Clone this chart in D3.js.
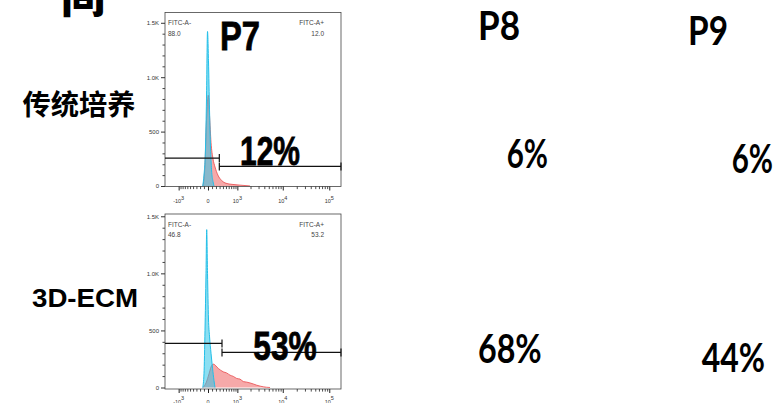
<!DOCTYPE html>
<html><head><meta charset="utf-8">
<script src="https://cdn.jsdelivr.net/npm/d3@7"></script>
<style>body{margin:0;background:#fff}svg{display:block}</style>
</head><body><svg id="c" width="774" height="403"></svg>
<script>
// ---------------- data ----------------
const headerChar = "间";
const rowLabels = ["传统培养", "3D-ECM"];
const passages = ["P7", "P8", "P9"];
const positivePct = [[12, 6, 6], [53, 68, 44]];
const gateNegPct = [88.0, 46.8];
const gatePosPct = [12.0, 53.2];
const gateNames = ["FITC-A-", "FITC-A+"];
const gateSplit = [292, 371];      // FITC value where the gates split
const gateNegCount = [257, 386];   // height (count) of the negative gate bar
const gatePosCount = [180, 307];   // height (count) of the positive gate bar

// histograms: FITC value / count
const topBlueX = [-131, -99, -62, -37, -12, 12, 37, 62, 87, 124, 149];
const topBlueY = [0, 100, 350, 800, 1420, 1150, 700, 350, 150, 40, 0];
const topRedX = [-124, -74, -37, 7, 37, 74, 124, 175, 252, 362, 502, 740, 1155, 1762, 1947];
const topRedY = [0, 200, 600, 835, 650, 400, 250, 175, 100, 50, 25, 15, 8, 2, 0];
const botBlueX = [-131, -99, -74, -49, -32, -12, 12, 37, 74, 112, 149, 175];
const botBlueY = [0, 120, 500, 1000, 1383, 1000, 600, 450, 300, 170, 60, 0];
const botRedX = [-124, -49, 25, 74, 131, 263, 412, 520, 654, 800, 966, 1150, 1377, 1650, 1947, 2300, 2736, 3250, 3812, 4500, 5320];
const botRedY = [0, 40, 120, 180, 205, 167, 137, 128, 108, 97, 79, 74, 52, 47, 40, 31, 20, 12, 6, 2, 0];

// axes
const yTickValues = [0, 500, 1000, 1500];
const yTickLabels = ["0", "500", "1.0K", "1.5K"];
const yMinorTicks = [100, 200, 300, 400, 600, 700, 800, 900, 1100, 1200, 1300, 1400];
const xTickValues = [-1000, 0, 1000, 10000, 100000];
const xTickLabels = [["-10", "3"], ["0", ""], ["10", "3"], ["10", "4"], ["10", "5"]];
const xMinorTicks = [-900, -800, -700, -600, -500, -400, -300, -200, -100,
  100, 200, 300, 400, 500, 600, 700, 800, 900,
  2000, 3000, 4000, 5000, 6000, 7000, 8000, 9000,
  20000, 30000, 40000, 50000, 60000, 70000, 80000, 90000];
const xDomain = [-2050, 178700];

// ---------------- drawing ----------------
const svg = d3.select("#c");
const SANS = "'Liberation Sans', Arial, sans-serif";
const CJK = "'Noto Sans CJK SC', sans-serif";
const GEO = "Lato, 'Open Sans', sans-serif";
const W = 495;
const tx = v => Math.asinh(v / W);

const panels = [
  { top: 12.5, bottom: 186.5, yMax: 1590, yRange: [186, 13], labelDy: 16.5,
    blue: [topBlueX, topBlueY], red: [topRedX, topRedY] },
  { top: 214, bottom: 389, yMax: 1520, yRange: [387.5, 214], labelDy: 14.5,
    blue: [botBlueX, botBlueY], red: [botRedX, botRedY] }
];
const left = 165, right = 341;

panels.forEach((p, i) => {
  const x = d3.scaleLinear().domain(xDomain.map(tx)).range([left, right]);
  const y = d3.scaleLinear().domain([0, p.yMax]).range(p.yRange);
  const g = svg.append("g");
  const clipId = "clip" + i;
  svg.append("clipPath").attr("id", clipId).append("rect")
    .attr("x", left).attr("y", p.top).attr("width", right - left).attr("height", p.bottom - p.top);

  const area = d3.area().curve(d3.curveMonotoneX)
    .x(d => x(tx(d[0]))).y0(y(0)).y1(d => y(d[1]));
  const line = d3.line().curve(d3.curveMonotoneX)
    .x(d => x(tx(d[0]))).y(d => y(d[1]));
  const redPts = p.red[0].map((v, k) => [v, p.red[1][k]]);
  const bluePts = p.blue[0].map((v, k) => [v, p.blue[1][k]]);
  const hg = g.append("g").attr("clip-path", `url(#${clipId})`);
  hg.append("path").attr("d", area(redPts)).attr("fill", "#f06a6a").attr("fill-opacity", 0.58);
  hg.append("path").attr("d", line(redPts)).attr("fill", "none").attr("stroke", "#e8474a").attr("stroke-width", 0.8);
  hg.append("path").attr("d", area(bluePts)).attr("fill", "#2ec4e8").attr("fill-opacity", 0.55);
  hg.append("path").attr("d", line(bluePts)).attr("fill", "none").attr("stroke", "#22bfe8").attr("stroke-width", 1);

  // frame
  g.append("rect").attr("x", left).attr("y", p.top).attr("width", right - left).attr("height", p.bottom - p.top)
    .attr("fill", "none").attr("stroke", "#444").attr("stroke-width", 0.8);

  // y axis
  const ya = g.append("g").attr("transform", `translate(${left},0)`)
    .call(d3.axisLeft(y).tickValues(yTickValues).tickSize(4).tickPadding(2)
      .tickFormat((d, k) => yTickLabels[k]));
  ya.select(".domain").remove();
  ya.selectAll("line").attr("stroke", "#333");
  ya.selectAll("text").attr("font-family", SANS).attr("font-size", 6).attr("fill", "#333");
  const ym = g.append("g").attr("transform", `translate(${left},0)`)
    .call(d3.axisLeft(y).tickValues(yMinorTicks).tickSize(2.5).tickFormat(""));
  ym.select(".domain").remove();
  ym.selectAll("line").attr("stroke", "#444");

  // x axis
  const xa = g.append("g").attr("transform", `translate(0,${p.bottom})`)
    .call(d3.axisBottom(x).tickValues(xTickValues.map(tx)).tickSize(4).tickFormat(""));
  xa.select(".domain").remove();
  xa.selectAll("line").attr("stroke", "#222").attr("stroke-width", 1);
  const xm = g.append("g").attr("transform", `translate(0,${p.bottom})`)
    .call(d3.axisBottom(x).tickValues(xMinorTicks.map(tx)).tickSize(2.6).tickFormat(""));
  xm.select(".domain").remove();
  xm.selectAll("line").attr("stroke", "#222").attr("stroke-width", 0.8);
  xTickValues.forEach((v, k) => {
    const t = g.append("text").attr("x", x(tx(v))).attr("y", p.bottom + p.labelDy)
      .attr("text-anchor", "middle").attr("font-family", SANS).attr("font-size", 5.5).attr("fill", "#333");
    t.append("tspan").text(xTickLabels[k][0]);
    if (xTickLabels[k][1]) t.append("tspan").attr("dy", -3.5).attr("font-size", 5.5).text(xTickLabels[k][1]);
  });

  // gates
  const gy1 = y(gateNegCount[i]), gy2 = y(gatePosCount[i]);
  const gs = x(tx(gateSplit[i]));
  const gl = g.append("g").attr("stroke", "#111").attr("stroke-width", 1.2);
  gl.append("line").attr("x1", left).attr("x2", gs).attr("y1", gy1).attr("y2", gy1);
  gl.append("line").attr("x1", gs).attr("x2", gs).attr("y1", gy1 - 4).attr("y2", gy1 + 4);
  gl.append("line").attr("x1", gs).attr("x2", right).attr("y1", gy2).attr("y2", gy2);
  gl.append("line").attr("x1", gs).attr("x2", gs).attr("y1", gy2 - 4).attr("y2", gy2 + 4);
  gl.append("line").attr("x1", right).attr("x2", right).attr("y1", gy2 - 4).attr("y2", gy2 + 4);

  // gate labels
  const lt = g.append("g").attr("font-family", SANS).attr("font-size", 6.5).attr("fill", "#444");
  lt.append("text").attr("x", left + 3).attr("y", p.top + 12.5).text(gateNames[0]);
  lt.append("text").attr("x", left + 3).attr("y", p.top + 23).text(gateNegPct[i].toFixed(1));
  lt.append("text").attr("x", right - 17).attr("y", p.top + 12.5).attr("text-anchor", "end").text(gateNames[1]);
  lt.append("text").attr("x", right - 17).attr("y", p.top + 23).attr("text-anchor", "end").text(gatePosPct[i].toFixed(1));
});

// header character (cropped at top)
svg.append("text").attr("x", 61).attr("y", 13).attr("font-family", CJK).attr("font-weight", 900)
  .attr("font-size", 44).text(headerChar);

// row labels
svg.append("text").attr("x", 22.5).attr("y", 114.5).attr("font-family", CJK).attr("font-weight", 700)
  .attr("font-size", 28).attr("textLength", 113).attr("lengthAdjust", "spacingAndGlyphs").text(rowLabels[0]);
svg.append("text").attr("x", 32).attr("y", 306.7).attr("font-family", SANS).attr("font-weight", 700)
  .attr("font-size", 25).attr("textLength", 106).attr("lengthAdjust", "spacingAndGlyphs").text(rowLabels[1]);

// passage titles
const titlePos = [
  { x: 220, y: 50, w: 40, f: SANS, s: 0.8 },
  { x: 478, y: 40, w: 42, f: GEO, s: 0 },
  { x: 688, y: 45, w: 40, f: GEO, s: 0 }
];
passages.forEach((t, k) => {
  const q = titlePos[k];
  svg.append("text").attr("x", q.x).attr("y", q.y).attr("font-family", q.f).attr("font-weight", 700)
    .attr("font-size", 41).attr("textLength", q.w).attr("lengthAdjust", "spacingAndGlyphs")
    .attr("stroke", "#000").attr("stroke-width", q.s).text(t);
});

// percentages
const pctPos = [
  [{ x: 240, y: 165, w: 60, f: SANS, s: 0.8 }, { x: 506.7, y: 168, w: 41.3, f: GEO, s: 0 }, { x: 731.7, y: 173, w: 41.3, f: GEO, s: 0 }],
  [{ x: 253.3, y: 360, w: 63.4, f: SANS, s: 0.8 }, { x: 478, y: 363.3, w: 63.7, f: GEO, s: 0 }, { x: 701.7, y: 371.7, w: 63.3, f: GEO, s: 0 }]
];
positivePct.forEach((row, r) => row.forEach((v, k) => {
  const q = pctPos[r][k];
  svg.append("text").attr("x", q.x).attr("y", q.y).attr("font-family", q.f).attr("font-weight", 700)
    .attr("font-size", 41).attr("textLength", q.w).attr("lengthAdjust", "spacingAndGlyphs")
    .attr("stroke", "#000").attr("stroke-width", q.s).text(v + "%");
}));
</script>
</body></html>
